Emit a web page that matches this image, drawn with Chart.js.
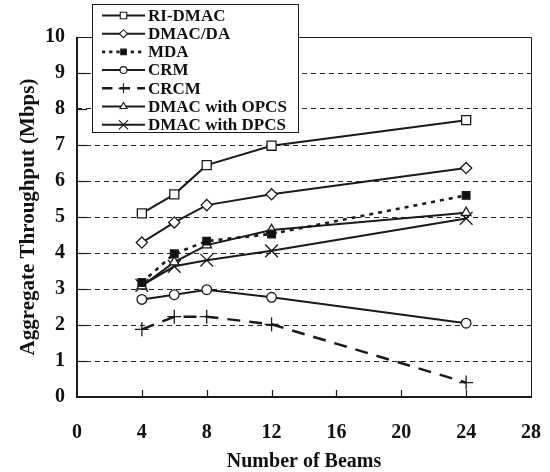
<!DOCTYPE html>
<html>
<head>
<meta charset="utf-8">
<title>Aggregate Throughput vs Number of Beams</title>
<script src="https://cdn.jsdelivr.net/npm/chart.js@4/dist/chart.umd.min.js"></script>
<style>
  html, body { margin: 0; padding: 0; background: #fff; }
  #wrap { width: 550px; height: 472px; }
</style>
</head>
<body>
<div id="wrap"><canvas id="c" width="550" height="472"></canvas></div>
<script>
// Number of beams (x positions of every series)
const beams = [4, 6, 8, 12, 24];

// Aggregate throughput (Mbps) per protocol
const riDmac   = [5.10, 5.63, 6.44, 6.98, 7.69];
const dmacDa   = [4.29, 4.85, 5.33, 5.63, 6.36];
const mda      = [3.18, 3.98, 4.33, 4.53, 5.60];
const crm      = [2.71, 2.84, 2.98, 2.77, 2.05];
const crcm     = [1.88, 2.23, 2.23, 2.02, 0.40];
const dmacOpcs = [3.08, 3.75, 4.22, 4.64, 5.12];
const dmacDpcs = [3.10, 3.63, 3.80, 4.06, 4.96];

const seriesNames = ['RI-DMAC', 'DMAC/DA', 'MDA', 'CRM', 'CRCM', 'DMAC with OPCS', 'DMAC with DPCS'];

// Axis ticks
const xTicks = [0, 4, 8, 12, 16, 20, 24, 28];
const yTicks = [0, 1, 2, 3, 4, 5, 6, 7, 8, 9, 10];

const SERIF = '"Liberation Serif", "Times New Roman", serif';

function pts(ys) { return beams.map((b, i) => ({ x: b, y: ys[i] })); }

function series(label, ys, style) {
  return Object.assign({
    label: label,
    data: pts(ys),
    borderColor: '#1a1a1a',
    borderWidth: 2,
    pointBorderColor: '#1a1a1a',
    pointBackgroundColor: '#ffffff',
    pointBorderWidth: 1.3,
    tension: 0,
    fill: false
  }, style);
}

const datasets = [
  series(seriesNames[0], riDmac,   { pointStyle: 'rect',     pointRadius: 6.4 }),
  series(seriesNames[1], dmacDa,   { pointStyle: 'rectRot',  pointRadius: 5.6 }),
  series(seriesNames[2], mda,      { pointStyle: 'rect',     pointRadius: 5.4, pointBackgroundColor: '#111', borderWidth: 2.6, borderDash: [4, 5] }),
  series(seriesNames[3], crm,      { pointStyle: 'circle',   pointRadius: 4.8 }),
  series(seriesNames[4], crcm,     { pointStyle: 'cross',    pointRadius: 7,   borderWidth: 2.5, borderDash: [13, 9] }),
  series(seriesNames[5], dmacOpcs, { pointStyle: 'triangle', pointRadius: 5.6 }),
  series(seriesNames[6], dmacDpcs, { pointStyle: 'crossRot', pointRadius: 9 })
];

// Plot frame plus short inward tick marks on both axes
const framePlugin = {
  id: 'frame',
  beforeDatasetsDraw(chart) {
    const { ctx, chartArea: a, scales } = chart;
    ctx.save();
    ctx.strokeStyle = '#1a1a1a';
    ctx.setLineDash([]);
    // inward ticks on the x axis
    ctx.lineWidth = 1.2;
    xTicks.slice(1, -1).forEach(v => {
      const px = Math.round(scales.x.getPixelForValue(v)) + 0.5;
      ctx.beginPath(); ctx.moveTo(px, a.bottom); ctx.lineTo(px, a.bottom - 7); ctx.stroke();
    });
    // inward ticks on the y axis
    yTicks.slice(1, -1).forEach(v => {
      const py = Math.round(scales.y.getPixelForValue(v)) + 0.5;
      ctx.beginPath(); ctx.moveTo(a.left, py); ctx.lineTo(a.left + 10, py); ctx.stroke();
    });
    // top and right border
    ctx.lineWidth = 1;
    ctx.beginPath();
    ctx.moveTo(a.left, a.top + 0.5); ctx.lineTo(a.right + 0.5, a.top + 0.5); ctx.lineTo(a.right + 0.5, a.bottom);
    ctx.stroke();
    // left and bottom axis lines
    ctx.lineWidth = 2;
    ctx.beginPath();
    ctx.moveTo(a.left, a.top); ctx.lineTo(a.left, a.bottom); ctx.lineTo(a.right + 1, a.bottom);
    ctx.stroke();
    ctx.restore();
  }
};

// Boxed legend drawn inside the plot's top-left corner
const boxLegendPlugin = {
  id: 'boxLegend',
  afterDraw(chart) {
    const { ctx } = chart;
    const box = { x: 92.5, y: 4.5, w: 206, h: 128 };
    ctx.save();
    ctx.fillStyle = '#ffffff';
    ctx.fillRect(box.x, box.y, box.w, box.h);
    ctx.strokeStyle = '#1a1a1a';
    ctx.lineWidth = 1;
    ctx.setLineDash([]);
    ctx.strokeRect(box.x, box.y, box.w, box.h);

    const rowY0 = 15.5, rowStep = 18.2;
    const x0 = 102, x1 = 145, xm = 123.5;
    chart.data.datasets.forEach((ds, i) => {
      const y = rowY0 + i * rowStep;
      ctx.strokeStyle = ds.borderColor;
      ctx.lineWidth = ds.borderWidth;
      ctx.setLineDash(ds.borderDash ? ds.borderDash.map(d => d * 0.8) : []);
      ctx.beginPath(); ctx.moveTo(x0, y); ctx.lineTo(x1, y); ctx.stroke();
      ctx.setLineDash([]);
      ctx.fillStyle = ds.pointBackgroundColor;
      ctx.strokeStyle = ds.pointBorderColor;
      ctx.lineWidth = 1.1;
      if (Chart.helpers && Chart.helpers.drawPoint) {
        Chart.helpers.drawPoint(ctx, {
          pointStyle: ds.pointStyle,
          rotation: 0,
          radius: ds.pointRadius * 0.72,
          borderWidth: 1.1
        }, xm, y);
      }
      ctx.fillStyle = '#111';
      ctx.font = 'bold 17px ' + SERIF;
      ctx.textAlign = 'left';
      ctx.textBaseline = 'middle';
      ctx.fillText(ds.label, 148, y + 1);
    });
    ctx.restore();
  }
};

new Chart(document.getElementById('c'), {
  type: 'line',
  data: { datasets: datasets },
  options: {
    responsive: false,
    animation: false,
    devicePixelRatio: 1,
    layout: { padding: { left: 0, right: 19, top: 37, bottom: 0 } },
    plugins: {
      legend: { display: false },
      tooltip: { enabled: false }
    },
    scales: {
      x: {
        type: 'linear',
        min: 0, max: 28,
        afterBuildTicks(scale) { scale.ticks = xTicks.map(v => ({ value: v })); },
        afterFit(scale) { scale.height = 75; scale.paddingLeft = 0; scale.paddingRight = 0; },
        grid: { display: false, drawTicks: false },
        border: { display: false },
        ticks: {
          color: '#111',
          padding: 24,
          font: { family: SERIF, size: 20, weight: 'bold' },
          maxRotation: 0
        },
        title: {
          display: true,
          text: 'Number of Beams',
          color: '#111',
          padding: { top: 0, bottom: 0 },
          font: { family: SERIF, size: 20, weight: 'bold', lineHeight: 1.0 }
        }
      },
      y: {
        type: 'linear',
        min: 0, max: 10,
        afterBuildTicks(scale) { scale.ticks = yTicks.map(v => ({ value: v })); },
        afterFit(scale) { scale.width = 77; scale.paddingTop = 0; scale.paddingBottom = 0; },
        grid: {
          drawTicks: false,
          color: (c) => (c.tick && (c.tick.value === 0 || c.tick.value === 10)) ? 'rgba(0,0,0,0)' : '#222',
          lineWidth: 1
        },
        border: { display: false, dash: [5, 4] },
        ticks: {
          color: '#111',
          padding: 12,
          font: { family: SERIF, size: 20, weight: 'bold' }
        },
        title: {
          display: true,
          text: 'Aggregate Throughput (Mbps)',
          color: '#111',
          padding: { top: 16, bottom: 0 },
          font: { family: SERIF, size: 21, weight: 'bold' }
        }
      }
    }
  },
  plugins: [framePlugin, boxLegendPlugin]
});
</script>
</body>
</html>
